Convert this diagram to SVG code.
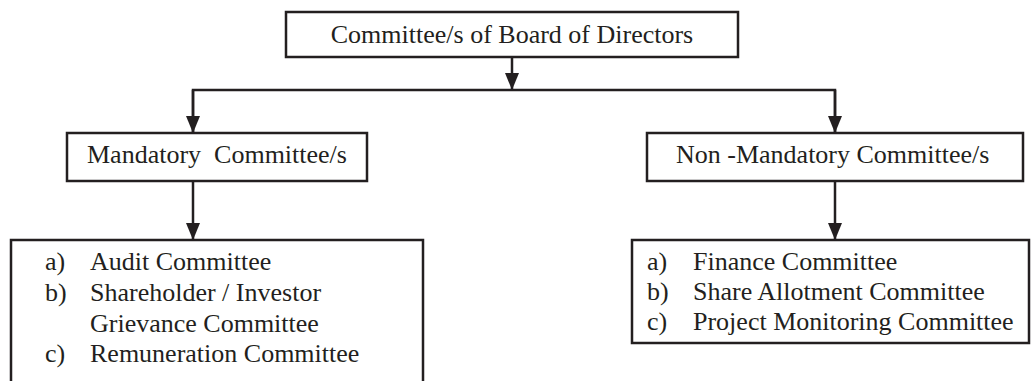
<svg xmlns="http://www.w3.org/2000/svg" width="1032" height="381" viewBox="0 0 1032 381">
<style>
.box{fill:#fff;stroke:#231f20;stroke-width:2.5}
.t{font-family:'Liberation Serif','Times New Roman',Times,'DejaVu Serif',serif;font-size:26px;fill:#231f20}
.c{stroke:#231f20;stroke-width:2.5;fill:none}
</style>
<defs>
<marker id="ah" viewBox="0 0 17 14" refX="17" refY="7" markerWidth="17" markerHeight="14" markerUnits="userSpaceOnUse" orient="auto">
<path d="M0,0 L17,7 L0,14 Z" fill="#231f20"/>
</marker>
</defs>
<rect width="1032" height="381" fill="#fff"/>
<g id="connectors">
<line class="c" x1="512" y1="57" x2="512" y2="90" marker-end="url(#ah)"/>
<polyline class="c" points="193,133 193,90 835,90 835,133"/>
<line class="c" x1="193" y1="90" x2="193" y2="133" marker-end="url(#ah)"/>
<line class="c" x1="835" y1="90" x2="835" y2="133" marker-end="url(#ah)"/>
<line class="c" x1="193" y1="181" x2="193" y2="240" marker-end="url(#ah)"/>
<line class="c" x1="835" y1="181" x2="835" y2="240" marker-end="url(#ah)"/>
</g>
<g id="board">
<rect class="box" x="286" y="12" width="452" height="45"/>
<text class="t" font-family="Liberation Serif, serif" x="512" y="43" text-anchor="middle">Committee/s of Board of Directors</text>
</g>
<g id="mandatory">
<rect class="box" x="67" y="133" width="300" height="48"/>
<text class="t" x="87" y="163" xml:space="preserve">Mandatory  Committee/s</text>
</g>
<g id="nonmandatory">
<rect class="box" x="647" y="133" width="376" height="48"/>
<text class="t" x="676" y="163">Non -Mandatory Committee/s</text>
</g>
<g id="mandatory-list">
<rect class="box" x="11" y="240" width="412" height="160"/>
<text class="t" x="45" y="270">a)</text><text class="t" x="90" y="270">Audit Committee</text>
<text class="t" x="45" y="301">b)</text><text class="t" x="90" y="301">Shareholder / Investor</text>
<text class="t" x="90" y="332">Grievance Committee</text>
<text class="t" x="45" y="362">c)</text><text class="t" x="90" y="362">Remuneration Committee</text>
</g>
<g id="nonmandatory-list">
<rect class="box" x="632" y="240" width="397" height="103"/>
<text class="t" x="647" y="270">a)</text><text class="t" x="693" y="270">Finance Committee</text>
<text class="t" x="647" y="300">b)</text><text class="t" x="693" y="300">Share Allotment Committee</text>
<text class="t" x="647" y="330">c)</text><text class="t" x="693" y="330">Project Monitoring Committee</text>
</g>
</svg>
